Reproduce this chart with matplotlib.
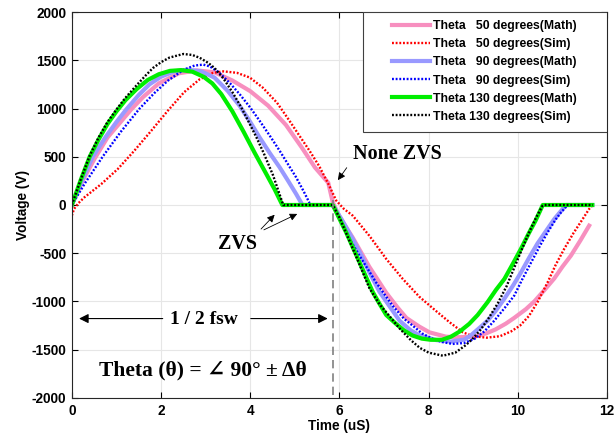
import matplotlib
matplotlib.use("Agg")
import matplotlib.pyplot as plt
from matplotlib.patches import Rectangle

# Theta 50 degrees (Math)
t50_math = [0, 0.25, 0.51, 0.8, 1.075, 1.33, 1.6, 1.95, 2.4, 2.8, 3.2, 3.6, 4.0, 4.4, 4.8, 5.15, 5.45, 5.75, 5.85,
            6.0, 6.30, 6.67, 7.05, 7.3, 7.5, 7.79, 8.02, 8.39, 8.7, 9.03, 9.29, 9.5, 9.73, 9.92, 10.18, 10.37,
            10.6, 10.82, 11.0, 11.19, 11.4, 11.60]
v50_math = [0, 260, 480, 700, 850, 990, 1120, 1260, 1365, 1395, 1375, 1290, 1180, 1030, 830, 600, 390, 230, 30,
            -120, -340, -640, -910, -1060, -1170, -1260, -1320, -1365, -1370, -1365, -1330, -1290, -1230, -1170,
            -1080, -1000, -880, -760, -640, -525, -370, -214]

# Theta 50 degrees (Sim)
t50_sim = [0, 0.05, 0.15, 0.28, 0.66, 1.03, 1.40, 1.78, 2.15, 2.52, 2.87, 3.17, 3.4, 3.7, 3.99, 4.28, 4.6, 4.88,
           5.1, 5.33, 5.55, 5.75, 5.93, 6.1, 6.30, 6.67, 7.05, 7.42, 7.79, 8.17, 8.47, 8.77, 9.0, 9.3, 9.6, 9.85,
           10.05, 10.25, 10.45, 10.67, 10.85, 11.04, 11.25, 11.42, 11.60, 11.68]
v50_sim = [-110, -40, 20, 79, 217, 373, 562, 769, 976, 1170, 1304, 1370, 1385, 1370, 1321, 1217, 1060, 873,
           720, 562, 400, 220, 45, -40, -111, -318, -559, -766, -950, -1100, -1215, -1320, -1360, -1375, -1360, -1310,
           -1250, -1150, -1000, -800, -620, -455, -290, -170, -41, 0]

# Theta 90 degrees (Math)
t90_math = [0, 0.25, 0.47, 0.75, 1.0, 1.22, 1.5, 1.74, 2.0, 2.3, 2.6, 2.9, 3.2, 3.5, 3.76, 4.0, 4.21, 4.45,
            4.66, 4.85, 5.03, 5.17, 5.85,
            6.05, 6.30, 6.5, 6.67, 6.9, 7.05, 7.35, 7.6, 7.79, 8.17, 8.5, 8.8, 8.95, 9.15, 9.32, 9.5, 9.70, 9.9,
            10.07, 10.25, 10.44, 10.64, 10.82, 11.08, 11.67]
v90_math = [0, 280, 500, 700, 860, 990, 1140, 1250, 1330, 1385, 1402, 1385, 1320, 1180, 1030, 860, 700, 530,
            390, 250, 114, 0, 0,
            -150, -352, -530, -697, -900, -1000, -1200, -1300, -1350, -1400, -1415, -1395, -1350, -1270, -1200,
            -1100, -970, -830, -700, -550, -400, -265, -145, 0, 0]

# Theta 90 degrees (Sim)
t90_sim = [0, 0.3, 0.69, 1.1, 1.52, 1.85, 2.15, 2.5, 2.75, 2.95, 3.1, 3.31, 3.55, 3.76, 4.0, 4.21, 4.45, 4.66,
           4.85, 5.03, 5.2, 5.33, 5.4, 5.85,
           6.0, 6.2, 6.45, 6.82, 7.19, 7.45, 7.64, 7.85, 8.09, 8.3, 8.54, 8.8, 9.03, 9.25, 9.47, 9.7, 9.92, 10.1,
           10.30, 10.5, 10.67, 10.85, 10.97, 11.12, 11.71]
v90_sim = [0, 230, 500, 760, 1000, 1160, 1287, 1400, 1445, 1455, 1435, 1370, 1260, 1150, 1010, 873, 710, 562,
           420, 286, 140, 20, 0, 0,
           -150, -330, -525, -801, -1042, -1180, -1249, -1330, -1387, -1420, -1440, -1430, -1387, -1310, -1200,
           -1070, -939, -770, -594, -420, -283, -150, -76, 0, 0]

# Theta 130 degrees (Math)
t130_math = [0, 0.2, 0.4, 0.6, 0.8, 1.0, 1.2, 1.45, 1.7, 1.95, 2.2, 2.45, 2.7, 2.95, 3.15, 3.35, 3.6, 3.85,
             4.1, 4.35, 4.55, 4.72, 5.85,
             6.15, 6.45, 6.75, 6.9, 7.05, 7.27, 7.45, 7.64, 7.85, 8.05, 8.3, 8.5, 8.7, 8.91, 9.1, 9.32, 9.51,
             9.70, 9.9, 10.07, 10.25, 10.40, 10.56, 11.67]
v130_math = [0, 260, 500, 680, 840, 970, 1085, 1200, 1295, 1355, 1390, 1398, 1382, 1330, 1260, 1150, 970, 760,
             540, 330, 160, 0, 0,
             -283, -594, -904, -1025, -1140, -1232, -1300, -1353, -1385, -1397, -1397, -1365, -1310, -1232,
             -1140, -1008, -880, -766, -600, -455, -290, -160, 0, 0]

# Theta 130 degrees (Sim)
t130_sim = [0, 0.2, 0.4, 0.6, 0.8, 1.0, 1.2, 1.45, 1.65, 1.82, 2.0, 2.19, 2.5, 2.7, 2.87, 3.05, 3.2, 3.4, 3.6,
            3.8, 4.0, 4.14, 4.3, 4.51, 4.74, 5.85,
            6.0, 6.15, 6.4, 6.67, 6.9, 7.12, 7.35, 7.6, 7.8, 8.0, 8.32, 8.6, 8.84, 9.0, 9.17, 9.35, 9.55, 9.75,
            9.92, 10.1, 10.22, 10.4, 10.55, 10.6, 11.68]
v130_sim = [0, 265, 510, 700, 860, 990, 1110, 1240, 1340, 1420, 1480, 1528, 1565, 1555, 1525, 1475, 1420, 1310,
            1170, 1010, 830, 700, 540, 310, 0, 0,
            -130, -290, -560, -860, -1030, -1150, -1280, -1400, -1480, -1530, -1562, -1530, -1450, -1380, -1290,
            -1170, -1020, -840, -650, -450, -318, -140, -10, 0, 0]

plt.rcParams['font.family'] = ['Liberation Sans', 'DejaVu Sans']
plt.rcParams['font.weight'] = 'bold'
plt.rcParams['axes.unicode_minus'] = False

fig = plt.figure(figsize=(6.14, 4.40), dpi=100)
ax = fig.add_axes([0.117, 0.0955, 0.8716, 0.8772])

dots = (0.8, 0.75)
ax.plot(t50_math, v50_math, color='#F78FBF', lw=3.0, label='Theta   50 degrees(Math)')
ax.plot(t50_sim, v50_sim, color='red', lw=1.7, dashes=dots, label='Theta   50 degrees(Sim)')
ax.plot(t90_math, v90_math, color='#9999FF', lw=3.0, label='Theta   90 degrees(Math)')
ax.plot(t90_sim, v90_sim, color='blue', lw=1.7, dashes=dots, label='Theta   90 degrees(Sim)')
ax.plot(t130_math, v130_math, color='#00EE00', lw=3.0, label='Theta 130 degrees(Math)')
ax.plot(t130_sim, v130_sim, color='black', lw=1.7, dashes=dots, label='Theta 130 degrees(Sim)')

ax.plot([5.85, 5.85], [50, -2000], color='gray', lw=1.2, dashes=(5, 3))

ax.set_xlim(0, 12)
ax.set_ylim(-2000, 2000)
ax.set_xticks(range(0, 13, 2))
ax.set_yticks(range(-2000, 2001, 500))
ax.grid(True, color='#e6e6e6', lw=0.8)
ax.set_axisbelow(True)
ax.tick_params(direction='in', top=True, right=True, length=4, labelsize=9.8, width=0.8, pad=4)
for s in ax.spines.values():
    s.set_color('#262626')
    s.set_linewidth(0.8)
ax.set_xlabel('Time (uS)', fontsize=9.8, fontweight='bold', labelpad=1)
ax.set_ylabel('Voltage (V)', fontsize=9.8, fontweight='bold', labelpad=1)

# legend: frame drawn by hand to get the wide side margins
ax.add_patch(Rectangle((0.544, 0.689), 0.456, 0.311, transform=ax.transAxes, facecolor='white',
                       edgecolor='#404040', lw=0.8, zorder=4.5))
leg = ax.legend(loc='center', bbox_to_anchor=(0.771, 0.846), fontsize=8.8, handlelength=3.1,
                labelspacing=0.5, frameon=False, borderpad=0, handletextpad=0.25)

serif = dict(family=['Liberation Serif', 'DejaVu Serif'], fontweight='bold')
arrow = dict(arrowstyle='-|>', color='black', lw=0.8, mutation_scale=14)
small_arrow = dict(arrowstyle='-|>', color='black', lw=0.6, mutation_scale=11)

ax.text(2.96, -1190, '1 / 2 fsw', ha='center', va='center', fontsize=14, **serif)
ax.annotate('', xy=(0.1, -1177), xytext=(2.1, -1177), arrowprops=arrow)
ax.annotate('', xy=(5.8, -1177), xytext=(3.95, -1177), arrowprops=arrow)
ax.text(2.93, -1720, 'Theta (θ) = ∠ 90° ± Δθ', ha='center', va='center', fontsize=15.5, **serif)

ax.text(3.71, -400, 'ZVS', ha='center', va='center', fontsize=14.5, **serif)
ax.annotate('', xy=(4.59, -80), xytext=(4.2, -270), arrowprops=small_arrow)
ax.annotate('', xy=(5.11, -80), xytext=(4.25, -270), arrowprops=small_arrow)

ax.text(7.30, 531, 'None ZVS', ha='center', va='center', fontsize=14.5, **serif)
ax.annotate('', xy=(5.93, 234), xytext=(6.2, 410), arrowprops=small_arrow)

fig.savefig('out.png', dpi=100)
